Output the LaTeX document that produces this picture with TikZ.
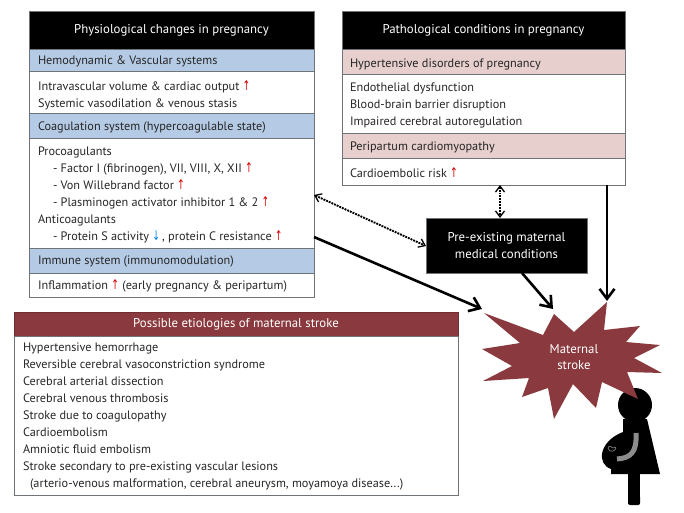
\documentclass[tikz,border=0pt]{standalone}
\usepackage{fontspec}
\setmainfont{PT Sans}
\newfontfamily\arrowfont{DejaVu Sans}
\usetikzlibrary{arrows.meta,calc}
\definecolor{bandblue}{HTML}{B5CBE5}
\definecolor{bandpink}{HTML}{E6CFCD}
\definecolor{maroon}{HTML}{8A3A3E}
\definecolor{rulegray}{HTML}{6F7479}
\definecolor{inktext}{HTML}{262626}
\newcommand{\up}{{\color{red!85!black}\arrowfont\scalebox{0.75}[1.1]{↑}}}
\newcommand{\down}{{\color{blue!50!cyan}\arrowfont\scalebox{0.75}[1.1]{↓}}}
\newcommand{\ind}{\hspace*{15pt}}
\tikzset{
  x=1pt,y=-1pt,
  every node/.style={inner sep=0pt,outer sep=0pt,font=\fontsize{12.25}{17}\selectfont,text=inktext},
  band/.style={draw=rulegray,line width=0.9pt,anchor=north west,minimum height=#1,rectangle},
  leftcol/.style={minimum width=285pt},
  rightcol/.style={minimum width=283pt},
  title/.style={fill=black,text=white},
  headline/.style={text=white,align=center,font=\fontsize{12.8}{16.5}\selectfont},
  listing/.style={align=left,anchor=north west},
  thickarrow/.style={line width=2.6pt,-{Straight Barb[length=10pt,width=15pt,line width=2.6pt]}},
  dotarrow/.style={line width=1.9pt,densely dotted,{Straight Barb[length=6pt,width=9pt,line width=1.3pt,sep=0pt]}-{Straight Barb[length=6pt,width=9pt,line width=1.3pt]}},
}
\begin{document}
\begin{tikzpicture}
\useasboundingbox (0,0) rectangle (684,512);

% Physiological column
\node[band=38pt,leftcol,title] (physhead) at (29,11) {};
\node[headline] at (physhead.center) {Physiological changes in pregnancy};
\node[band=22pt,leftcol,fill=bandblue] (hemo) at (29,49) {};
\node[band=42pt,leftcol] (hemobody) at (29,71) {};
\node[band=25pt,leftcol,fill=bandblue] (coag) at (29,113) {};
\node[band=110pt,leftcol] (coagbody) at (29,138) {};
\node[band=25pt,leftcol,fill=bandblue] (immune) at (29,248) {};
\node[band=24pt,leftcol] (immunebody) at (29,273) {};
\node[anchor=west] at (38,61.5) {Hemodynamic \& Vascular systems};
\node[listing] at (38,80.5) {Intravascular volume \& cardiac output \up\\Systemic vasodilation \& venous stasis};
\node[anchor=west] at (38,127.5) {Coagulation system (hypercoagulable state)};
\node[listing] at (38,146.5) {Procoagulants\\
\ind- Factor I (fibrinogen), VII, VIII, X, XII \up\\
\ind- Von Willebrand factor \up\\
\ind- Plasminogen activator inhibitor 1 \& 2 \up\\
Anticoagulants\\
\ind- Protein S activity \down\,, protein C resistance \up};
\node[anchor=west] at (38,261.5) {Immune system (immunomodulation)};
\node[anchor=west] at (38,286) {Inflammation \up\ (early pregnancy \& peripartum)};

% Pathological column
\node[band=38pt,rightcol,title] (pathhead) at (342,11) {};
\node[headline] at (pathhead.center) {Pathological conditions in pregnancy};
\node[band=25pt,rightcol,fill=bandpink] (htn) at (342,49) {};
\node[band=59pt,rightcol] (htnbody) at (342,74) {};
\node[band=25pt,rightcol,fill=bandpink] (ppcm) at (342,133) {};
\node[band=27pt,rightcol] (ppcmbody) at (342,158) {};
\node[anchor=west] at (350,64.5) {Hypertensive disorders of pregnancy};
\node[listing] at (350,82.5) {Endothelial dysfunction\\Blood-brain barrier disruption\\Impaired cerebral autoregulation};
\node[anchor=west] at (350,147.5) {Peripartum cardiomyopathy};
\node[anchor=west] at (350,173) {Cardioembolic risk \up};

% Pre-existing conditions
\node[band=55pt,minimum width=161pt,title] (preex) at (426,218) {};
\node[headline] at (preex.center) {Pre-existing maternal\\medical conditions};

% Etiologies table
\node[band=24pt,minimum width=444pt,fill=maroon,draw=maroon!80!black] (etiohead) at (14,312) {};
\node[headline] at (etiohead.center) {Possible etiologies of maternal stroke};
\node[band=159pt,minimum width=444pt] (etiobody) at (14,336) {};
\node[listing] at (23,342.5) {Hypertensive hemorrhage\\
Reversible cerebral vasoconstriction syndrome\\
Cerebral arterial dissection\\
Cerebral venous thrombosis\\
Stroke due to coagulopathy\\
Cardioembolism\\
Amniotic fluid embolism\\
Stroke secondary to pre-existing vascular lesions\\
\hspace*{7pt}(arterio-venous malformation, cerebral aneurysm, moyamoya disease...)};

% Pregnant figure
\fill[black] (635,405) circle (17);
\fill[black] (623,419) -- (647,419) -- (660,474) -- (611,474) -- (611,469)
  .. controls (596,464) and (599,441) .. (623,432) -- cycle;
\fill[black] (628,470) rectangle (640,504);
\fill[black,rounded corners=2pt] (628,495) rectangle (640,505);
\draw[line width=5pt,color=gray!90] (636,433) .. controls (637,452) and (631,458) .. (617,459);
\draw[gray!90,line width=0.6pt] (613,448) .. controls (609,444) and (606,448) .. (610,451)
  -- (613,451) .. controls (617,449) and (617,446) .. (613,448) -- cycle;

% Maternal stroke burst
\fill[maroon] (484,313) -- (543,335) -- (554,314) -- (574,332) -- (607,302) -- (604,330)
  -- (640,326) -- (626,342) -- (660,345) -- (634,358) -- (662,373) -- (627,372)
  -- (638,399) -- (602,382) -- (596,408) -- (573,384) -- (554,419) -- (548,388)
  -- (522,397) -- (529,378) -- (483,381) -- (512,366) -- (482,349) -- (520,343) -- cycle;
\node[headline] (stroke) at (574,357) {Maternal\\stroke};

% Connectors
\coordinate (strokeA) at (482,309);
\coordinate (strokeB) at (553,309);
\coordinate (strokeC) at (607,301);
\coordinate (physDot) at (coagbody.east |- 0,195);
\coordinate (physSolid) at (coagbody.east |- 0,237);
\coordinate (preexSide) at (preex.west |- 0,246);
\coordinate (pathTop) at (ppcmbody.south -| 500,0);
\coordinate (preexTop) at (preex.north -| 500,0);
\coordinate (pathDrop) at (ppcmbody.south -| 607,0);
\coordinate (preexFoot) at (preex.south -| 522,0);
\draw[thickarrow] (physSolid) -- (strokeA);
\draw[thickarrow] (preexFoot) -- (strokeB);
\draw[thickarrow] (pathDrop) -- (strokeC);
\draw[dotarrow] (physDot) -- (preexSide);
\draw[dotarrow] (pathTop) -- (preexTop);
\end{tikzpicture}
\end{document}
